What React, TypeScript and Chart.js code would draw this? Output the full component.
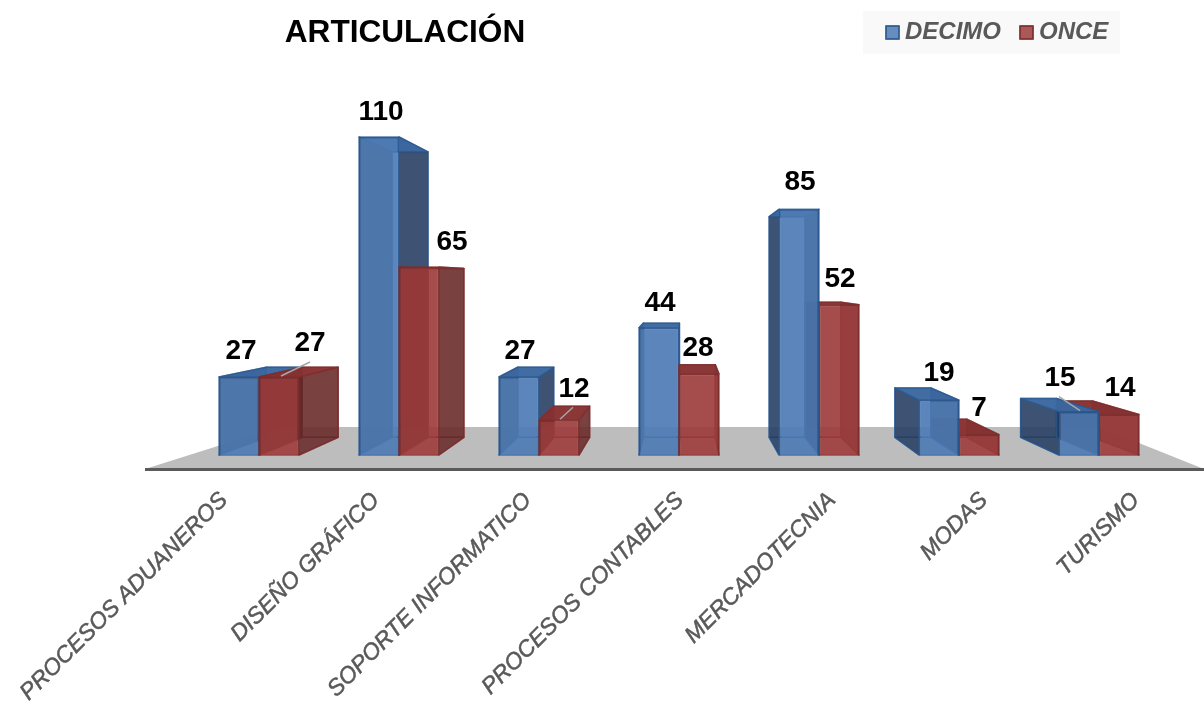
import React, { useEffect, useRef } from "react";
import { Chart, registerables } from "chart.js";

Chart.register(...registerables);

const categories = [
  "PROCESOS ADUANEROS",
  "DISEÑO GRÁFICO",
  "SOPORTE INFORMATICO",
  "PROCESOS CONTABLES",
  "MERCADOTECNIA",
  "MODAS",
  "TURISMO",
];
const decimoValues = [27, 110, 27, 44, 85, 19, 15];
const onceValues = [27, 65, 12, 28, 52, 7, 14];

// Label nudges relative to each bar's top-centre, and which labels carry a leader line
const decimoNudge = [[2, -26], [2, -25], [1, -26], [1, -25], [1, -27], [0, -27], [-19, -33]];
const onceNudge = [[31, -34], [33, -25], [15, -31], [-1, -26], [1, -25], [0, -26], [1, -26]];
const decimoLeaders = [[], [], [], [], [], [], [[-20, -15], [1, -1]]];
const onceLeaders = [[[2, -1], [31, -15]], [], [[1, -1], [14, -13]], [], [], [], []];

const VP = { x: 683, y: 282 };
const DEPTH = 0.102;
const TICK_SPREAD = 12;
const FONT = '"Liberation Sans", Arial, sans-serif';

const SKIN = [
  {
    back: "rgba(80,128,188,0.45)",
    wall: "rgba(38,58,92,0.82)",
    top: "rgba(60,104,160,0.95)",
    floor: "rgba(60,105,165,0.35)",
    edge: "rgba(42,88,145,0.75)",
  },
  {
    back: "rgba(158,60,60,0.45)",
    wall: "rgba(100,40,40,0.8)",
    top: "rgba(136,50,50,0.95)",
    floor: "rgba(158,60,60,0.35)",
    edge: "rgba(125,45,45,0.75)",
  },
];

const project = (p: number[]) => [p[0] + DEPTH * (VP.x - p[0]), p[1] + DEPTH * (VP.y - p[1])];

function quad(ctx: CanvasRenderingContext2D, pts: number[][], fill: string, edge: string) {
  ctx.beginPath();
  pts.forEach((p, i) => (i ? ctx.lineTo(p[0], p[1]) : ctx.moveTo(p[0], p[1])));
  ctx.closePath();
  ctx.fillStyle = fill;
  ctx.fill();
  ctx.lineWidth = 1.5;
  ctx.lineJoin = "round";
  ctx.strokeStyle = edge;
  ctx.stroke();
}

function drawBox(ctx: CanvasRenderingContext2D, el: any, skin: (typeof SKIN)[number]) {
  const x0 = el.x - el.width / 2;
  const x1 = el.x + el.width / 2;
  const tl = [x0, el.y];
  const tr = [x1, el.y];
  const br = [x1, el.base];
  const bl = [x0, el.base];
  const [btl, btr, bbr, bbl] = [tl, tr, br, bl].map(project);
  quad(ctx, [btl, btr, bbr, bbl], skin.back, skin.edge);
  quad(ctx, [bl, br, bbr, bbl], skin.floor, skin.edge);
  quad(ctx, [tl, btl, bbl, bl], skin.wall, skin.edge);
  quad(ctx, [tr, btr, bbr, br], skin.wall, skin.edge);
  quad(ctx, [tl, tr, btr, btl], skin.top, skin.edge);
}

const boxes3d = {
  id: "boxes3d",
  afterLayout(chart: any) {
    chart.titleBlock.left = 205;
    chart.titleBlock.right = 605;
  },
  beforeDraw(chart: any) {
    // the tick labels fan out a little wider than the bars, as in a perspective view
    const items = chart.scales.x.getLabelItems();
    if (!items.spread) {
      items.forEach((item: any, i: number) => {
        item.options.translation[0] += i * TICK_SPREAD;
      });
      items.spread = true;
    }
  },
  beforeDatasetsDraw(chart: any) {
    const ctx: CanvasRenderingContext2D = chart.ctx;
    const base = chart.scales.y.getPixelForValue(0);
    // floor
    ctx.fillStyle = "#bdbdbd";
    ctx.beginPath();
    ctx.moveTo(145, base + 14);
    ctx.lineTo(278, base - 28);
    ctx.lineTo(1099, base - 28);
    ctx.lineTo(1204, base + 14);
    ctx.closePath();
    ctx.fill();
    ctx.fillStyle = "#5a5a5a";
    ctx.fillRect(145, base + 13, 1059, 3);

    const metas = [chart.getDatasetMeta(0), chart.getDatasetMeta(1)];
    categories.forEach((_, i) => {
      const groupX = metas[0].data[i].x + metas[0].data[i].width / 2;
      const order = groupX < VP.x ? [0, 1] : [1, 0];
      order.forEach((d) => {
        const el = metas[d].data[i];
        drawBox(ctx, el, SKIN[d]);
        el.draw(ctx);
      });
    });
    return false;
  },
  afterDraw(chart: any) {
    const ctx: CanvasRenderingContext2D = chart.ctx;
    ctx.save();
    const nudges = [decimoNudge, onceNudge];
    const leaders = [decimoLeaders, onceLeaders];
    chart.data.datasets.forEach((ds: any, d: number) => {
      const meta = chart.getDatasetMeta(d);
      meta.data.forEach((el: any, i: number) => {
        const line = leaders[d][i];
        if (line.length) {
          ctx.beginPath();
          ctx.moveTo(el.x + line[0][0], el.y + line[0][1]);
          ctx.lineTo(el.x + line[1][0], el.y + line[1][1]);
          ctx.strokeStyle = "#a6a6a6";
          ctx.lineWidth = 1.5;
          ctx.stroke();
        }
        ctx.font = `bold 28px ${FONT}`;
        ctx.fillStyle = "#000";
        ctx.textAlign = "center";
        ctx.textBaseline = "middle";
        ctx.fillText(String(ds.data[i]), el.x + nudges[d][i][0], el.y + nudges[d][i][1]);
      });
    });
    // legend
    ctx.fillStyle = "#f9f9f9";
    ctx.fillRect(863, 11, 257, 43);
    const legendX = [886, 1020];
    chart.data.datasets.forEach((ds: any, d: number) => {
      ctx.fillStyle = ds.backgroundColor;
      ctx.strokeStyle = ds.borderColor;
      ctx.lineWidth = 2;
      ctx.fillRect(legendX[d], 26, 13, 13);
      ctx.strokeRect(legendX[d], 26, 13, 13);
      ctx.font = `italic bold 24px ${FONT}`;
      ctx.fillStyle = "#595959";
      ctx.textAlign = "left";
      ctx.textBaseline = "middle";
      ctx.fillText(ds.label, legendX[d] + 19, 32);
    });
    ctx.restore();
  },
};

export default function App() {
  const ref = useRef<HTMLCanvasElement>(null);
  useEffect(() => {
    const chart = new Chart(ref.current!, {
      type: "bar",
      data: {
        labels: categories,
        datasets: [
          {
            label: "DECIMO",
            data: decimoValues,
            backgroundColor: "rgba(78,124,180,0.86)",
            borderColor: "rgba(42,88,145,0.85)",
            borderWidth: 1.5,
          },
          {
            label: "ONCE",
            data: onceValues,
            backgroundColor: "rgba(158,60,60,0.85)",
            borderColor: "rgba(125,45,45,0.85)",
            borderWidth: 1.5,
          },
        ],
      },
      options: {
        animation: false,
        responsive: false,
        events: [],
        layout: { autoPadding: false, padding: { left: 189, right: 35 } },
        datasets: { bar: { barPercentage: 1, categoryPercentage: 80 / 140 } },
        plugins: {
          legend: { display: false },
          tooltip: { enabled: false },
          title: {
            display: true,
            text: "ARTICULACIÓN",
            color: "#000",
            align: "center",
            position: "top",
            font: { family: FONT, size: 31.6, weight: "bold" },
            padding: { top: 14.4, bottom: 0 },
          },
        },
        scales: {
          y: { display: false, min: 0, max: 139.3 },
          x: {
            border: { display: false },
            grid: { display: false, drawTicks: false },
            afterFit: (s: any) => {
              s.height = 253;
            },
            ticks: {
              color: "#595959",
              font: { family: FONT, size: 23, style: "italic" },
              textStrokeColor: "#595959",
              textStrokeWidth: 0.5,
              minRotation: 45,
              maxRotation: 45,
              padding: 32,
              labelOffset: -35,
              autoSkip: false,
            },
          },
        },
      },
      plugins: [boxes3d],
    } as any);
    return () => chart.destroy();
  }, []);
  return (
    <div style={{ position: "fixed", left: 0, top: 0, width: 1204, height: 708 }}>
      <canvas ref={ref} width={1204} height={708} style={{ display: "block" }} />
    </div>
  );
}
